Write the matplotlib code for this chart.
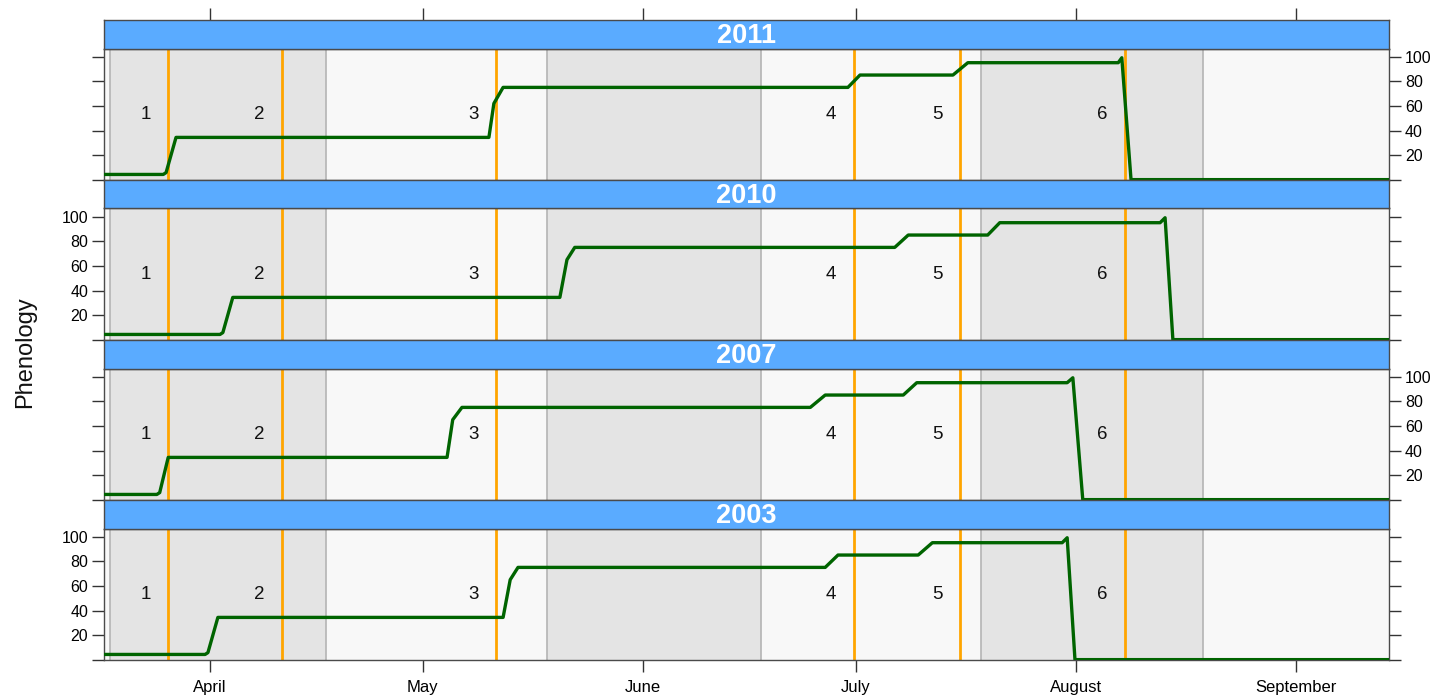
import matplotlib
matplotlib.use('Agg')
import matplotlib.pyplot as plt

plt.rcParams['font.family'] = ['Liberation Sans', 'DejaVu Sans']

# ---------------- data ----------------
years = ['2011', '2010', '2007', '2003']

doy_2011 = [76.0, 84.4, 84.8, 86.2, 130.3, 131.0, 132.3, 180.9, 182.6, 195.7, 197.8, 219.0, 219.5, 220.8, 257.2]
val_2011 = [4.5, 4.5, 6, 34.5, 34.5, 62, 75, 75, 85, 85, 95, 95, 99, 0.3, 0.3]

doy_2010 = [76.0, 92.4, 92.8, 94.2, 140.3, 141.3, 142.4, 187.5, 189.4, 200.6, 202.3, 224.9, 225.6, 226.7, 257.2]
val_2010 = [4.5, 4.5, 6, 34.5, 34.5, 65, 75, 75, 85, 85, 95, 95, 99, 0.3, 0.3]

doy_2007 = [76.0, 83.5, 83.9, 85.1, 124.4, 125.2, 126.5, 175.6, 177.7, 188.7, 190.6, 211.8, 212.6, 214.0, 257.2]
val_2007 = [4.5, 4.5, 6, 34.5, 34.5, 65, 75, 75, 85, 85, 95, 95, 99, 0.3, 0.3]

doy_2003 = [76.0, 90.3, 90.7, 92.1, 132.3, 133.3, 134.4, 177.7, 179.5, 190.8, 192.8, 211.1, 211.8, 212.9, 257.2]
val_2003 = [4.5, 4.5, 6, 34.5, 34.5, 65, 75, 75, 85, 85, 95, 95, 99, 0.3, 0.3]

series = {'2011': (doy_2011, val_2011), '2010': (doy_2010, val_2010),
          '2007': (doy_2007, val_2007), '2003': (doy_2003, val_2003)}

stage_days = [85.1, 101.2, 131.3, 181.7, 196.7, 220.0]
stage_labels = ['1', '2', '3', '4', '5', '6']
stage_label_y = 53

band_edges = [76.9, 107.3, 138.5, 168.65, 199.66, 230.95]

month_days = [91, 121, 152, 182, 213, 244]
month_labels = ['April', 'May', 'June', 'July', 'August', 'September']

y_ticks = [0, 20, 40, 60, 80, 100]
y_ticklabels = ['', '20', '40', '60', '80', '100']

xlim = (76.05, 257.16)
ylim = (0, 106.5)

# ---------------- style ----------------
W, H = 1444, 699
strip_col = '#5aabff'
gray_band = '#e4e4e4'
light_band = '#f8f8f8'
edge_col = '#b4b4b4'
orange = '#ffa500'
green = '#006400'
frame_col = '#4a4a4a'

fig = plt.figure(figsize=(W / 100, H / 100), dpi=100)
fig.patch.set_facecolor('white')

left_px, right_px = 104, 1389
top_px = 20
period = 160
strip_h = 28.5


def frac_rect(x0, y0, x1, y1):
    return [x0 / W, 1 - y1 / H, (x1 - x0) / W, (y1 - y0) / H]


for i, yr in enumerate(years):
    s_top = top_px + period * i
    s_bot = s_top + strip_h
    p_bot = top_px + period * (i + 1)

    ax = fig.add_axes(frac_rect(left_px, s_bot, right_px, p_bot))
    ax.set_xlim(*xlim)
    ax.set_ylim(*ylim)
    ax.set_facecolor(light_band)

    # alternating background bands
    for k in range(0, len(band_edges), 2):
        a = band_edges[k]
        b = band_edges[k + 1] if k + 1 < len(band_edges) else xlim[1]
        ax.axvspan(a, b, color=gray_band, lw=0, zorder=0)
    for e in band_edges:
        ax.axvline(e, color=edge_col, lw=1.2, zorder=1)

    # stage lines and labels
    for d, lab in zip(stage_days, stage_labels):
        ax.axvline(d, color=orange, lw=2.0, zorder=2)
        ax.text(d - 3.2, stage_label_y, lab, ha='center', va='center',
                fontsize=13.5, color='#111111', zorder=3)

    xs, ys = series[yr]
    ax.plot(xs, ys, color=green, lw=2.4, solid_joinstyle='round',
            solid_capstyle='round', zorder=4)

    for sp in ax.spines.values():
        sp.set_color(frame_col)
        sp.set_linewidth(1.0)

    ax.set_yticks(y_ticks)
    label_left = (i % 2 == 1)
    ax.tick_params(axis='y', which='both', direction='out', length=8.5,
                   width=1.0, color='#333333', left=True, right=True,
                   labelleft=label_left, labelright=not label_left,
                   labelsize=11.5, pad=3)
    ax.set_yticklabels(y_ticklabels)

    ax.set_xticks(month_days)
    if i == len(years) - 1:
        ax.set_xticklabels(month_labels)
        ax.tick_params(axis='x', direction='out', length=8.5, width=1.0,
                       color='#333333', labelsize=12, pad=6,
                       bottom=True, top=False)
    else:
        ax.tick_params(axis='x', bottom=False, top=False,
                       labelbottom=False)

    # strip
    sax = fig.add_axes(frac_rect(left_px, s_top, right_px, s_bot))
    sax.set_xlim(*xlim)
    sax.set_ylim(0, 1)
    sax.set_facecolor(strip_col)
    for sp in sax.spines.values():
        sp.set_color(frame_col)
        sp.set_linewidth(1.0)
    sax.set_yticks([])
    if i == 0:
        sax.set_xticks(month_days)
        sax.tick_params(axis='x', direction='out', length=8.5, width=1.0,
                        color='#333333', top=True, bottom=False,
                        labeltop=False, labelbottom=False)
    else:
        sax.set_xticks([])
    sax.text(0.5, 0.45, yr, transform=sax.transAxes, ha='center',
             va='center', fontsize=19.5, fontweight='bold', color='white')

fig.text(25 / W, 1 - 352 / H, 'Phenology', rotation=90, ha='center',
         va='center', fontsize=17, color='#111111')

fig.savefig('out.png', dpi=100)
